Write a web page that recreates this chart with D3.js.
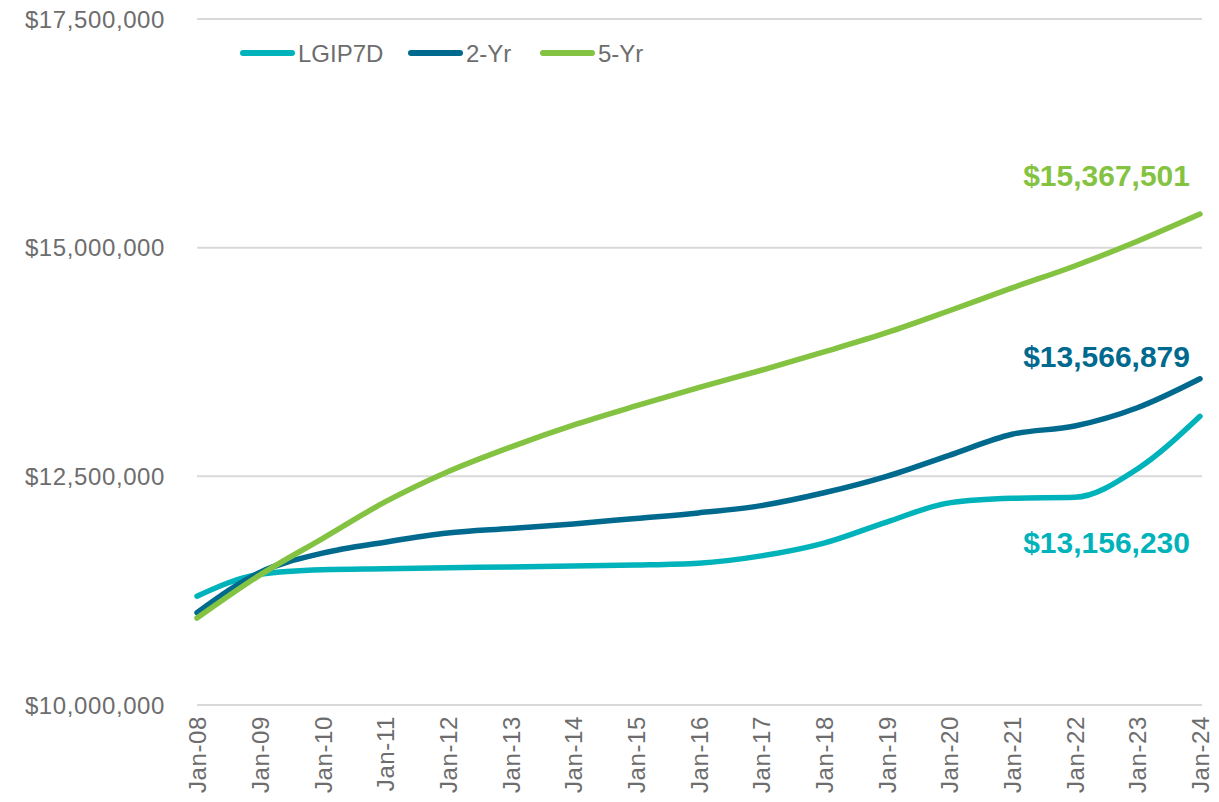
<!DOCTYPE html>
<html>
<head>
<meta charset="utf-8">
<script src="https://cdn.jsdelivr.net/npm/d3@7"></script>
<style>
  body { margin: 0; background: #fff; }
  svg { display: block; font-family: "Liberation Sans", Arial, sans-serif; }
</style>
</head>
<body>
<svg id="chart"></svg>
<script>
// years on the x axis (January of each year)
var years = [2008, 2009, 2010, 2011, 2012, 2013, 2014, 2015, 2016,
             2017, 2018, 2019, 2020, 2021, 2022, 2023, 2024];

// growth of the portfolio
var lgip7d = [11190000, 11430000, 11480000, 11490000, 11500000, 11510000, 11520000, 11530000, 11550000,
              11630000, 11770000, 12000000, 12210000, 12260000, 12270000, 12580000, 13156230];
var twoYr  = [11010000, 11450000, 11660000, 11780000, 11880000, 11930000, 11980000, 12040000, 12100000,
              12180000, 12320000, 12500000, 12730000, 12960000, 13050000, 13250000, 13566879];
var fiveYr = [10950000, 11420000, 11820000, 12220000, 12550000, 12820000, 13060000, 13270000, 13470000,
              13660000, 13860000, 14070000, 14310000, 14560000, 14800000, 15070000, 15367501];

var seriesNames  = ["LGIP7D", "2-Yr", "5-Yr"];
var seriesColors = ["#00b3bb", "#006a8e", "#84c341"];
var endLabels    = ["$13,156,230", "$13,566,879", "$15,367,501"];
var yTicks       = [10000000, 12500000, 15000000, 17500000];

var W = 1219, H = 802;
var margin = {top: 19, right: 19, bottom: 97, left: 197};
var width  = 1200 - margin.left,
    height = H - margin.top - margin.bottom;

var svg = d3.select("#chart").attr("width", W).attr("height", H);
var g = svg.append("g")
  .attr("transform", "translate(" + margin.left + "," + margin.top + ")");

var x = d3.scaleTime()
  .domain([new Date(2008, 0, 1), new Date(2024, 0, 1)])
  .range([0, width]);
var y = d3.scaleLinear().domain([10000000, 17500000]).range([height, 0]);

// gridlines
g.selectAll(".grid").data(yTicks).enter().append("line")
  .attr("x1", 0).attr("x2", width + 2)
  .attr("y1", function(d) { return y(d); })
  .attr("y2", function(d) { return y(d); })
  .attr("stroke", "#d9d9d9").attr("stroke-width", 2);

// y axis labels
var fmt = d3.format("$,.0f");
g.selectAll(".ylab").data(yTicks).enter().append("text")
  .attr("x", -32)
  .attr("y", function(d) { return y(d); })
  .attr("dy", "0.36em")
  .attr("text-anchor", "end")
  .style("font-size", "24px")
  .style("letter-spacing", "0.6px")
  .attr("fill", "#6d6d6d")
  .text(function(d) { return fmt(d); });

// x axis
var xAxis = d3.axisBottom(x)
  .tickValues(years.map(function(yr) { return new Date(yr, 0, 1); }))
  .tickFormat(d3.timeFormat("%b-%y"))
  .tickSize(0);
var xg = g.append("g").attr("transform", "translate(0," + height + ")").call(xAxis);
xg.select(".domain").remove();
xg.selectAll("text")
  .attr("transform", "rotate(-90)")
  .attr("x", -11).attr("y", 0).attr("dy", "0.36em")
  .attr("text-anchor", "end")
  .style("font-size", "24px")
  .style("letter-spacing", "0.6px")
  .style("font-family", "'Liberation Sans', Arial, sans-serif")
  .attr("fill", "#6d6d6d");

// lines
var allSeries = [lgip7d, twoYr, fiveYr];
var line = d3.line()
  .x(function(d, i) { return x(new Date(years[i], 0, 1)); })
  .y(function(d) { return y(d); })
  .curve(d3.curveMonotoneX);

allSeries.forEach(function(s, k) {
  g.append("path")
    .datum(s)
    .attr("fill", "none")
    .attr("stroke", seriesColors[k])
    .attr("stroke-width", 5.5)
    .attr("stroke-linecap", "round")
    .attr("d", line);
});

// end value labels
var labelOffsets = [137, -12, -28];
allSeries.forEach(function(s, k) {
  g.append("text")
    .attr("x", width - 10)
    .attr("y", y(s[s.length - 1]) + labelOffsets[k])
    .attr("text-anchor", "end")
    .style("font-size", "30px")
    .style("font-weight", "bold")
    .attr("fill", seriesColors[k])
    .text(endLabels[k]);
});

// legend
var legendX = [240, 408, 540];
var lg = svg.append("g");
seriesNames.forEach(function(name, k) {
  lg.append("line")
    .attr("x1", legendX[k] + 3).attr("x2", legendX[k] + 52)
    .attr("y1", 53).attr("y2", 53)
    .attr("stroke", seriesColors[k])
    .attr("stroke-width", 6)
    .attr("stroke-linecap", "round");
  lg.append("text")
    .attr("x", legendX[k] + 58).attr("y", 62)
    .style("font-size", "24px")
    .attr("fill", "#6d6d6d")
    .text(name);
});
</script>
</body>
</html>
